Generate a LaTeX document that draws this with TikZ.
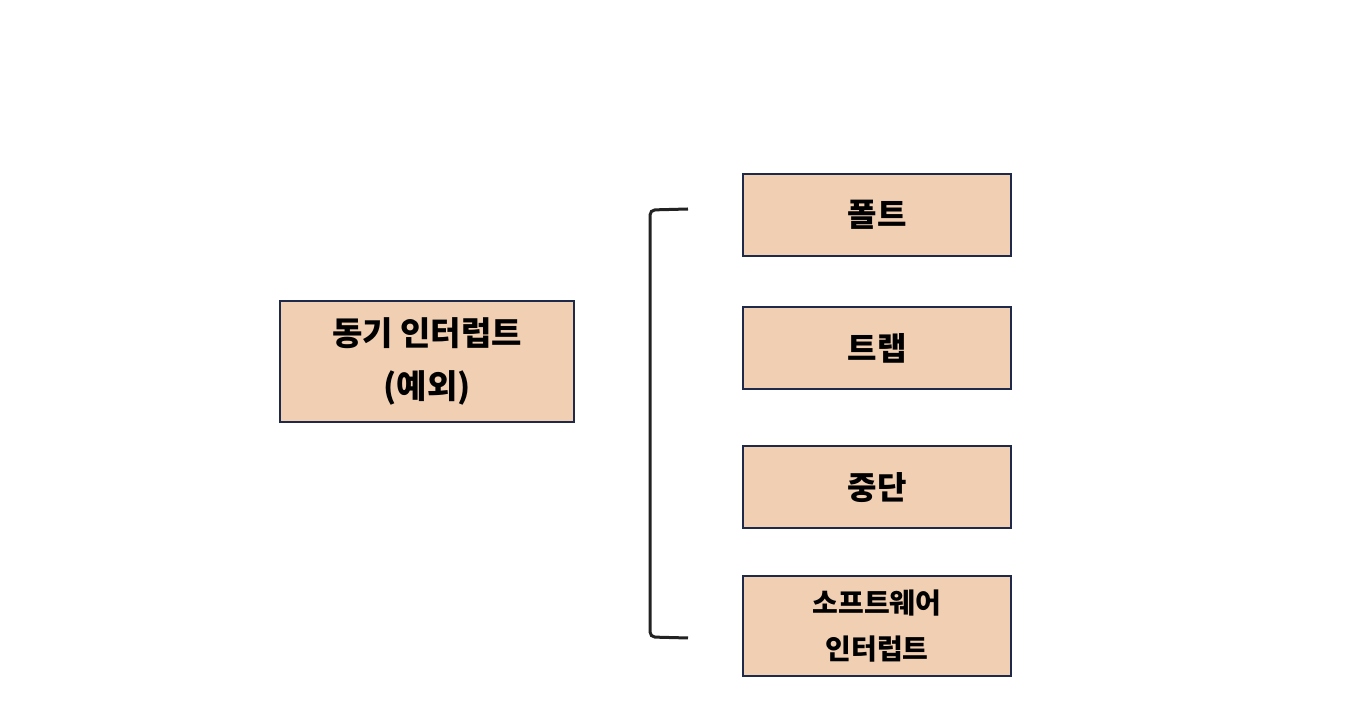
\documentclass[tikz,border=0pt]{standalone}
\usepackage{fontspec}
\newfontfamily\krfont{Noto Sans CJK KR}
\usepackage{tikz}
\usetikzlibrary{positioning}
\definecolor{peach}{HTML}{F1CFB3}
\definecolor{navy}{HTML}{1F2A4A}
\definecolor{brk}{HTML}{222222}
\tikzset{
    kind/.style = {draw = navy, fill = peach, line width = 1pt, inner sep = 0pt,
        minimum width = 134pt, minimum height = 41pt, align = center,
        font = \krfont\bfseries\fontsize{16}{26.5}\selectfont},
}

\begin{document}
\begin{tikzpicture}[x = .5pt, y = -.5pt]
    \useasboundingbox (0,0) rectangle (1372,726);
    \node[kind, minimum width = 147pt, minimum height = 60.5pt, font = \krfont\bfseries\fontsize{16.5}{26.5}\selectfont] (sync) at (427,361.5) {동기 인터럽트\\(예외)};
    \node[kind] (fault) at (877,215) {폴트};
    \node[kind] (trap) at (877,348.5) {트랩};
    \node[kind] (abort) at (877,487.5) {중단};
    \node[kind, minimum height = 50pt, font = \krfont\bfseries\fontsize{14}{23}\selectfont] (soft) at (877,626) {소프트웨어\\인터럽트};
    % bracket
    \draw[brk, line width = 1.5pt, rounded corners = 2.5pt] (688,209) -- (650,210) -- (650,637) -- (688,638);
\end{tikzpicture}
\end{document}
